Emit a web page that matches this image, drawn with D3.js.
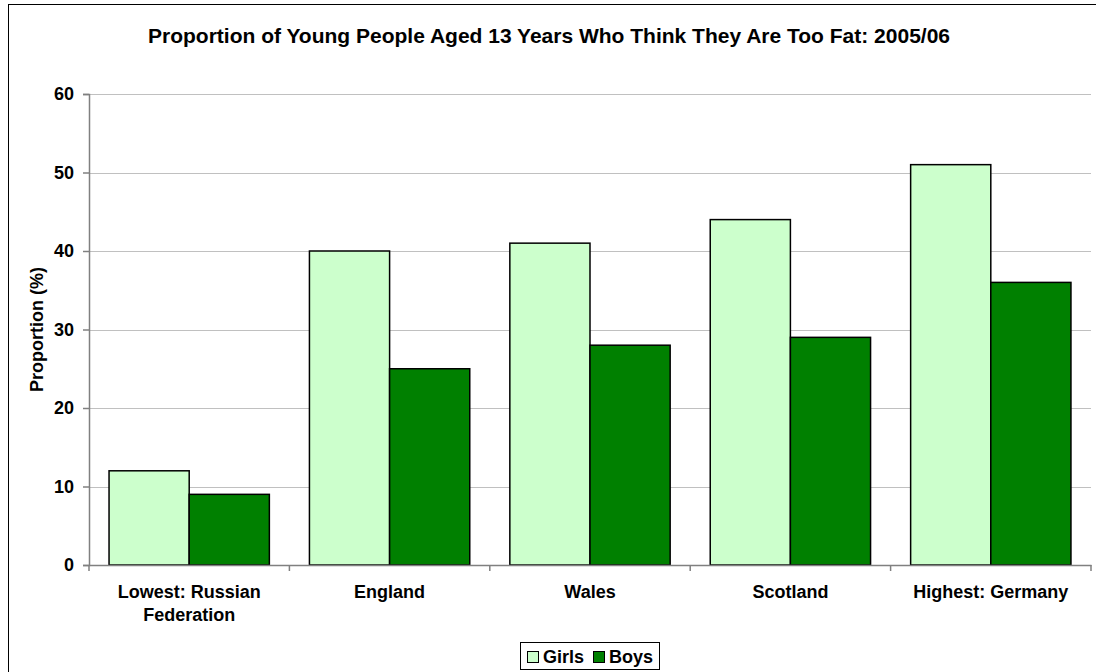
<!DOCTYPE html>
<html><head><meta charset="utf-8">
<script src="https://cdn.jsdelivr.net/npm/d3@7"></script>
<style>body{margin:0;background:#fff}svg{display:block;font-family:Arial,"Liberation Sans",sans-serif}</style>
</head><body>
<svg id="c" width="1096" height="672"></svg>
<script>
const categories = ["Lowest: Russian Federation", "England", "Wales", "Scotland", "Highest: Germany"];
const categoryLines = [["Lowest: Russian", "Federation"], ["England"], ["Wales"], ["Scotland"], ["Highest: Germany"]];
const seriesNames = ["Girls", "Boys"];
const girls = [12, 40, 41, 44, 51];
const boys = [9, 25, 28, 29, 36];
const yTicks = [0, 10, 20, 30, 40, 50, 60];
const colors = ["#CCFFCC", "#008000"];
const title = "Proportion of Young People Aged 13 Years Who Think They Are Too Fat: 2005/06";
const yLabel = "Proportion (%)";

const svg = d3.select("#c");
const pLeft = 89, pRight = 1091, pTop = 94, pBottom = 565;

svg.append("rect").attr("x", 8.5).attr("y", 4.5).attr("width", 1100).attr("height", 700)
  .attr("fill", "#fff").attr("stroke", "#000").attr("stroke-width", 1);

const x0 = d3.scaleBand().domain(categories).range([pLeft, pRight]).paddingInner(0).paddingOuter(0);
const x1 = d3.scaleBand().domain(seriesNames).range([0, x0.bandwidth()]).paddingInner(0).paddingOuter(0.25);
const y = d3.scaleLinear().domain([0, 60]).range([pBottom, pTop]);

// gridlines
svg.append("g").selectAll("line").data(yTicks.filter(d => d > 0)).join("line")
  .attr("x1", pLeft).attr("x2", pRight).attr("y1", d => Math.round(y(d)) + 0.5).attr("y2", d => Math.round(y(d)) + 0.5)
  .attr("stroke", "#c0c0c0").attr("stroke-width", 1);

// bars
const data = categories.map((c, i) => ({c, vals: [girls[i], boys[i]]}));
const groups = svg.append("g").selectAll("g").data(data).join("g")
  .attr("transform", d => `translate(${x0(d.c)},0)`);
groups.selectAll("rect").data(d => d.vals.map((v, j) => ({s: seriesNames[j], v, j}))).join("rect")
  .attr("x", d => x1(d.s)).attr("width", x1.bandwidth())
  .attr("y", d => y(d.v)).attr("height", d => y(0) - y(d.v))
  .attr("fill", d => colors[d.j]).attr("stroke", "#000").attr("stroke-width", 1.5);

// y axis
const yAxis = d3.axisLeft(y).tickValues(yTicks).tickSize(6).tickPadding(9);
const ya = svg.append("g").attr("transform", `translate(${pLeft},0)`).call(yAxis);
ya.select(".domain").attr("stroke", "#808080").attr("stroke-width", 1.5);
ya.selectAll(".tick line").attr("stroke", "#808080").attr("stroke-width", 1.5);
ya.selectAll(".tick text").attr("font-size", 18).attr("font-weight", "bold").attr("fill", "#000")
  .attr("font-family", "Arial, 'Liberation Sans', sans-serif");

// x axis
const xAxis = d3.axisBottom(x0).tickSize(0).tickFormat(() => "");
const xa = svg.append("g").attr("transform", `translate(0,${pBottom})`).call(xAxis);
xa.select(".domain").attr("stroke", "#808080").attr("stroke-width", 1.5);
xa.selectAll(".tick").remove();
const bounds = categories.map(c => x0(c)).concat([pRight]);
svg.append("g").selectAll("line").data(bounds).join("line")
  .attr("x1", d => d).attr("x2", d => d).attr("y1", pBottom).attr("y2", pBottom + 6)
  .attr("stroke", "#808080").attr("stroke-width", 1.5);

// category labels
const cl = svg.append("g").selectAll("text").data(categories).join("text")
  .attr("x", d => x0(d) + x0.bandwidth() / 2).attr("y", 598)
  .attr("text-anchor", "middle").attr("font-size", 18).attr("font-weight", "bold");
cl.each(function(d, i) {
  d3.select(this).selectAll("tspan").data(categoryLines[i]).join("tspan")
    .attr("x", x0(d) + x0.bandwidth() / 2).attr("dy", (t, k) => k === 0 ? 0 : 23).text(t => t);
});

// title
svg.append("text").attr("x", 549).attr("y", 43).attr("text-anchor", "middle")
  .attr("font-size", 21).attr("font-weight", "bold").text(title);

// y label
svg.append("text").attr("transform", `translate(43,${(pTop + pBottom) / 2}) rotate(-90)`)
  .attr("text-anchor", "middle").attr("font-size", 18).attr("font-weight", "bold").text(yLabel);

// legend
const lg = svg.append("g");
lg.append("rect").attr("x", 520.5).attr("y", 642.5).attr("width", 139).attr("height", 27)
  .attr("fill", "#fff").attr("stroke", "#000").attr("stroke-width", 1);
const legX = [527, 593];
seriesNames.forEach((s, i) => {
  lg.append("rect").attr("x", legX[i] + 0.5).attr("y", 651.5).attr("width", 11).attr("height", 11)
    .attr("fill", colors[i]).attr("stroke", "#000").attr("stroke-width", 1);
  lg.append("text").attr("x", legX[i] + 16).attr("y", 663).attr("font-size", 18).attr("font-weight", "bold").text(s);
});
</script>
</body></html>
